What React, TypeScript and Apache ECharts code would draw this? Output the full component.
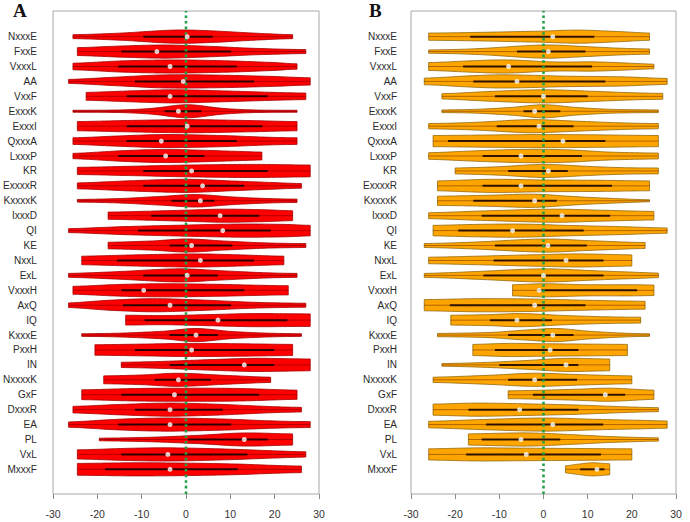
import React, { useEffect, useRef } from "react";
import * as echarts from "echarts";

// Motif categories, top to bottom
const categories = [
  "NxxxE", "FxxE", "VxxxL", "AA", "VxxF", "ExxxK", "ExxxI", "QxxxA", "LxxxP", "KR",
  "ExxxxR", "KxxxxK", "IxxxD", "QI", "KE", "NxxL", "ExL", "VxxxH", "AxQ", "IQ",
  "KxxxE", "PxxH", "IN", "NxxxxK", "GxF", "DxxxR", "EA", "PL", "VxL", "MxxxF",
];

const xTicks = [-30, -20, -10, 0, 10, 20, 30];

// Panel A: medians and quartiles
const medianA = [0, -6.9, -3.9, -0.9, -3.9, -2, 0, -5.9, -4.9, 1, 3.5, 3, 7.5, 8.1, 1, 3, 0, -9.9, -3.9, 7, 2, 1, 13, -2, -2.9, -3.9, -3.9, 13, -4.4, -3.9];
const q1A = [-10, -15, -15.7, -11.9, -13.8, -5.1, -13.8, -13.8, -15.7, -10, -10, -3.6, -8.2, -11.2, -4, -16, -10, -15, -14.6, -9.7, -4, -11.9, -4, -7.4, -15, -11.9, -15.7, 0.2, -15, -18.7];
const q3A = [5.8, 10, 11.3, 15.2, 18.3, 3.2, 17.1, 11.3, 3.9, 18.3, 13, 6.2, 16.4, 19, 10.3, 15.2, 7, 13, 10, 22.8, 7, 19.8, 19.8, 5.4, 16.4, 8.1, 10, 18.3, 13.7, 11.5];

// Panel A: density outlines as [value, relative half-width]; first/last knots are min/max
const densityA: number[][][] = [
  [[-26, 0.3], [-15, 0.55], [-3, 1], [5, 0.9], [15, 0.55], [24, 0.3]],
  [[-25, 0.6], [-15, 0.85], [-5, 1], [5, 0.8], [15, 0.5], [27, 0.3]],
  [[-26, 0.5], [-15, 0.85], [-3, 1], [10, 0.85], [20, 0.6], [25, 0.4]],
  [[-27, 0.3], [-18, 0.6], [-5, 1], [8, 0.95], [20, 0.75], [28, 0.55]],
  [[-23, 0.6], [-12, 0.85], [-3, 1], [10, 0.8], [20, 0.6], [27, 0.5]],
  [[-26, 0.15], [-15, 0.2], [-8, 0.45], [0, 1], [8, 0.45], [15, 0.2], [25, 0.15]],
  [[-25, 0.7], [-15, 0.85], [0, 1], [15, 0.85], [25, 0.7]],
  [[-26, 0.5], [-15, 0.8], [-5, 1], [8, 0.85], [18, 0.6], [25, 0.5]],
  [[-26, 0.4], [-15, 0.8], [-5, 1], [5, 0.85], [12, 0.7], [17, 0.6]],
  [[-25, 0.55], [-10, 0.75], [0, 0.9], [15, 1], [28, 0.9]],
  [[-25, 0.45], [-12, 0.8], [0, 1], [10, 0.75], [20, 0.5], [26, 0.35]],
  [[-25, 0.2], [-15, 0.35], [-5, 0.7], [2, 0.95], [10, 0.6], [18, 0.35], [25, 0.25]],
  [[-18, 0.55], [-8, 0.7], [0, 0.85], [8, 1], [18, 0.9], [24, 0.75]],
  [[-27, 0.3], [-15, 0.6], [0, 0.85], [12, 1], [22, 0.95], [28, 0.8]],
  [[-18, 0.5], [-8, 0.7], [0, 1], [8, 0.7], [18, 0.4], [27, 0.3]],
  [[-24, 0.65], [-12, 0.85], [2, 1], [12, 0.85], [22, 0.65]],
  [[-27, 0.3], [-15, 0.6], [-2, 1], [8, 0.7], [18, 0.4], [25, 0.3]],
  [[-26, 0.6], [-15, 0.9], [-5, 1], [8, 0.9], [18, 0.75], [23, 0.7]],
  [[-27, 0.35], [-18, 0.75], [-8, 1], [3, 0.8], [15, 0.45], [27, 0.3]],
  [[-14, 0.75], [-5, 0.7], [5, 0.85], [15, 1], [28, 0.95]],
  [[-24, 0.2], [-15, 0.3], [-5, 0.6], [2, 1], [10, 0.55], [18, 0.3], [26, 0.2]],
  [[-21, 0.8], [-10, 0.9], [0, 1], [12, 0.95], [24, 0.85]],
  [[-15, 0.4], [-5, 0.55], [5, 0.8], [15, 1], [28, 0.9]],
  [[-19, 0.6], [-10, 0.75], [-2, 1], [8, 0.7], [19, 0.4]],
  [[-24, 0.75], [-12, 0.95], [0, 1], [12, 0.95], [25, 0.7]],
  [[-26, 0.5], [-15, 0.8], [-4, 1], [8, 0.8], [18, 0.5], [26, 0.35]],
  [[-27, 0.4], [-16, 0.8], [-5, 1], [8, 0.85], [20, 0.55], [28, 0.45]],
  [[-20, 0.2], [-8, 0.35], [3, 0.65], [13, 1], [24, 0.85]],
  [[-25, 0.7], [-12, 0.95], [-3, 1], [10, 0.8], [20, 0.55], [27, 0.4]],
  [[-25, 0.9], [-12, 1], [0, 0.95], [12, 0.8], [20, 0.6], [26, 0.5]],
];

// Panel B: medians and quartiles
const medianB = [2.1, 1.1, -7.9, -6, 0, -2, -1, 4.4, -5.1, 1.1, -5.1, -2, 4.2, -7, 1, 5.1, 0, -1, -2, -6, 2.1, 1.5, 5.1, -2, 14, -5.4, 2.1, -5.1, -3.9, 12.1];
const q1B = [-16.6, -6, -18.2, -15.9, -11, -4.5, -10.6, -21.6, -13.8, -8, -13.8, -15.9, -14, -19.3, -11, -11.3, -13.6, -1.5, -21.2, -12.1, -8, -11, -10, -8, -2.4, -17, -13, -14, -17.5, 8.3];
const q3B = [11.5, 9.5, 11, 14, 10, 3.8, 6.8, 14, 8.7, 5.5, 15.5, 3, 15.1, 9.1, 9.8, 13.6, 13.6, 21.2, 9.5, 1.9, 6.8, 7.9, 7.9, 7.6, 18.5, 7.9, 13.5, 3.8, 13, 13.8];

// Panel B: density outlines
const densityB: number[][][] = [
  [[-26, 0.55], [-15, 0.65], [0, 0.85], [8, 1], [18, 0.75], [24, 0.55]],
  [[-26, 0.25], [-15, 0.45], [0, 1], [10, 0.75], [18, 0.5], [24, 0.4]],
  [[-26, 0.6], [-15, 0.9], [-8, 1], [2, 0.7], [12, 0.7], [20, 0.5], [25, 0.35]],
  [[-27, 0.5], [-15, 0.9], [-8, 1], [5, 0.8], [18, 0.7], [28, 0.45]],
  [[-23, 0.4], [-12, 0.75], [0, 1], [10, 0.8], [20, 0.55], [27, 0.45]],
  [[-23, 0.2], [-15, 0.3], [-7, 0.6], [0, 1], [7, 0.6], [15, 0.3], [26, 0.2]],
  [[-26, 0.4], [-15, 0.6], [-3, 1], [8, 0.75], [18, 0.5], [26, 0.4]],
  [[-25, 0.85], [-10, 0.95], [0, 1], [12, 0.95], [26, 0.85]],
  [[-26, 0.5], [-15, 0.8], [-5, 1], [5, 0.95], [15, 0.6], [26, 0.45]],
  [[-20, 0.45], [-10, 0.65], [0, 1], [10, 0.7], [18, 0.5], [26, 0.45]],
  [[-24, 0.75], [-12, 1], [0, 0.9], [12, 0.85], [24, 0.75]],
  [[-24, 0.7], [-12, 0.85], [-2, 1], [8, 0.6], [16, 0.35], [24, 0.15]],
  [[-26, 0.45], [-15, 0.7], [2, 1], [12, 0.85], [25, 0.65]],
  [[-25, 0.8], [-15, 0.95], [-5, 1], [5, 0.8], [18, 0.6], [28, 0.4]],
  [[-27, 0.3], [-15, 0.55], [0, 1], [10, 0.75], [23, 0.45]],
  [[-26, 0.5], [-12, 0.7], [0, 0.9], [8, 1], [20, 0.85]],
  [[-27, 0.3], [-15, 0.6], [0, 1], [12, 0.7], [20, 0.5], [26, 0.35]],
  [[-7, 0.85], [0, 1], [10, 0.85], [20, 0.85], [25, 0.8]],
  [[-27, 0.85], [-15, 1], [-3, 0.95], [10, 0.75], [23, 0.6]],
  [[-21, 0.75], [-12, 0.85], [-5, 1], [5, 0.7], [15, 0.5], [22, 0.45]],
  [[-24, 0.25], [-12, 0.4], [-3, 0.8], [3, 1], [10, 0.6], [18, 0.3], [24, 0.2]],
  [[-16, 0.85], [-8, 1], [0, 0.95], [10, 0.9], [19, 0.85]],
  [[-23, 0.2], [-12, 0.4], [-3, 0.7], [5, 1], [15, 0.9]],
  [[-25, 0.4], [-12, 0.7], [-2, 1], [8, 0.8], [20, 0.6]],
  [[-8, 0.6], [0, 0.7], [8, 0.85], [15, 1], [25, 0.7]],
  [[-25, 0.85], [-15, 1], [-5, 0.9], [8, 0.7], [18, 0.45], [26, 0.3]],
  [[-26, 0.5], [-15, 0.75], [0, 1], [12, 0.8], [22, 0.65], [28, 0.55]],
  [[-17, 0.85], [-10, 0.95], [-3, 1], [6, 0.75], [15, 0.45], [26, 0.25]],
  [[-26, 0.85], [-15, 1], [-3, 0.95], [8, 0.9], [20, 0.85]],
  [[5, 0.55], [8, 0.8], [11, 1], [15, 0.85]],
];

// Catmull-Rom interpolation of the half-width along the violin
function widthAt(knots: number[][], x: number): number {
  const n = knots.length;
  let i = 0;
  while (i < n - 2 && x > knots[i + 1][0]) i++;
  const x0 = knots[i][0];
  const x1 = knots[i + 1][0];
  const t = x1 === x0 ? 0 : Math.min(1, Math.max(0, (x - x0) / (x1 - x0)));
  const p0 = knots[Math.max(0, i - 1)][1];
  const p1 = knots[i][1];
  const p2 = knots[i + 1][1];
  const p3 = knots[Math.min(n - 1, i + 2)][1];
  const t2 = t * t;
  const t3 = t2 * t;
  const v =
    0.5 *
    (2 * p1 + (-p0 + p2) * t + (2 * p0 - 5 * p1 + 4 * p2 - p3) * t2 + (-p0 + 3 * p1 - 3 * p2 + p3) * t3);
  return Math.max(0.06, v);
}

function makeViolinRenderer(
  density: number[][][],
  q1: number[],
  q3: number[],
  median: number[],
  fill: string,
  stroke: string
) {
  return (params: any, api: any) => {
    const i = params.dataIndex;
    const knots = density[i];
    const lo = knots[0][0];
    const hi = knots[knots.length - 1][0];
    const cy = api.coord([median[i], i])[1];
    const band = api.size([0, 1])[1];
    const H = band * 0.44;
    const steps = 48;
    const top: number[][] = [];
    const bottom: number[][] = [];
    for (let s = 0; s <= steps; s++) {
      const v = lo + ((hi - lo) * s) / steps;
      const w = widthAt(knots, v) * H;
      const px = api.coord([v, i])[0];
      top.push([px, cy - w]);
      bottom.push([px, cy + w]);
    }
    const points = top.concat(bottom.reverse());
    const xLo = api.coord([lo, i])[0];
    const xHi = api.coord([hi, i])[0];
    const xQ1 = api.coord([q1[i], i])[0];
    const xQ3 = api.coord([q3[i], i])[0];
    return {
      type: "group",
      children: [
        {
          type: "polygon",
          shape: { points },
          style: { fill, stroke, lineWidth: 0.8 },
        },
        {
          type: "line",
          shape: { x1: xLo, y1: cy, x2: xHi, y2: cy },
          style: { stroke: "rgba(60,0,0,0.4)", lineWidth: 1 },
        },
        {
          type: "line",
          shape: { x1: xQ1, y1: cy, x2: xQ3, y2: cy },
          style: { stroke: "rgba(20,0,0,0.85)", lineWidth: 2 },
        },
      ],
    };
  };
}

const FRAME_TOP = 11;
const FRAME_H = 483;
const ROW_TOP = 29.2;
const ROW_H = 447.6;
const GREEN = "#22a046";
const AXIS_GRAY = "#8c8c8c";
const LABEL_FONT = "Liberation Sans";

function panelOption(left: number, width: number, labelMargin: number) {
  return {
    grids: [
      {
        left,
        top: FRAME_TOP,
        width,
        height: FRAME_H,
        show: true,
        borderColor: "#a8a8a8",
        borderWidth: 1,
        backgroundColor: "transparent",
      },
      { left, top: ROW_TOP, width, height: ROW_H },
    ],
    xAxes: [
      {
        type: "value",
        min: -30,
        max: 30,
        interval: 10,
        axisLine: { show: false },
        axisTick: { show: true, length: 5, lineStyle: { color: AXIS_GRAY } },
        axisLabel: {
          fontSize: 10.5,
          color: "#333",
          margin: 14,
          fontFamily: LABEL_FONT,
          formatter: (v: number) => (xTicks.includes(v) ? String(v) : ""),
        },
        splitLine: { show: false },
      },
      { type: "value", min: -30, max: 30, show: false },
    ],
    yAxes: [
      { type: "value", min: 0, max: 1, show: false },
      {
        type: "category",
        data: categories,
        inverse: true,
        boundaryGap: true,
        axisLine: { show: false },
        axisTick: { show: true, alignWithLabel: true, length: 4, lineStyle: { color: AXIS_GRAY } },
        axisLabel: { fontSize: 10, color: "#2a2a2a", margin: labelMargin, fontFamily: LABEL_FONT, interval: 0 },
        splitLine: { show: false },
      },
    ],
  };
}

export default function App() {
  const ref = useRef<HTMLDivElement>(null);

  useEffect(() => {
    if (!ref.current) return;
    const chart = echarts.init(ref.current, null, { renderer: "svg" });
    const pA = panelOption(53, 266, 18.5);
    const pB = panelOption(411, 265, 14);
    const withGrid = (axes: any[], offset: number) =>
      axes.map((a, k) => ({ ...a, gridIndex: offset + k }));

    const greenLine = (axisIndex: number) => ({
      type: "line",
      xAxisIndex: axisIndex,
      yAxisIndex: axisIndex,
      data: [
        [0, 0],
        [0, 1],
      ],
      symbol: "none",
      silent: true,
      z: 10,
      lineStyle: { color: GREEN, width: 2.6, type: [2.6, 3] },
    });

    const medianDots = (axisIndex: number, median: number[]) => ({
      type: "scatter",
      xAxisIndex: axisIndex,
      yAxisIndex: axisIndex,
      data: median.map((m, i) => [m, i]),
      symbol: "circle",
      symbolSize: 5,
      silent: true,
      z: 12,
      itemStyle: { color: "#ffffff" },
    });

    chart.setOption({
      animation: false,
      backgroundColor: "#ffffff",
      grid: [...pA.grids, ...pB.grids],
      xAxis: [...withGrid(pA.xAxes, 0), ...withGrid(pB.xAxes, 2)],
      yAxis: [...withGrid(pA.yAxes, 0), ...withGrid(pB.yAxes, 2)],
      graphic: [
        {
          type: "text",
          x: 13,
          y: 1,
          style: {
            text: "A",
            fontSize: 19,
            fontWeight: "bold",
            fontFamily: "Liberation Serif",
            fill: "#111",
          },
        },
        {
          type: "text",
          x: 369,
          y: 1,
          style: {
            text: "B",
            fontSize: 19,
            fontWeight: "bold",
            fontFamily: "Liberation Serif",
            fill: "#111",
          },
        },
      ],
      series: [
        {
          type: "custom",
          xAxisIndex: 1,
          yAxisIndex: 1,
          z: 2,
          renderItem: makeViolinRenderer(densityA, q1A, q3A, medianA, "#ff0000", "#a30000"),
          data: categories.map((_, i) => [medianA[i], i]),
          encode: { x: 0, y: 1 },
        },
        {
          type: "custom",
          xAxisIndex: 3,
          yAxisIndex: 3,
          z: 2,
          renderItem: makeViolinRenderer(densityB, q1B, q3B, medianB, "#ffa500", "#94690c"),
          data: categories.map((_, i) => [medianB[i], i]),
          encode: { x: 0, y: 1 },
        },
        greenLine(0),
        greenLine(2),
        medianDots(1, medianA),
        medianDots(3, medianB),
      ],
    });
    return () => chart.dispose();
  }, []);

  return (
    <div
      ref={ref}
      style={{ position: "absolute", left: 0, top: 0, width: 690, height: 522 }}
    />
  );
}
